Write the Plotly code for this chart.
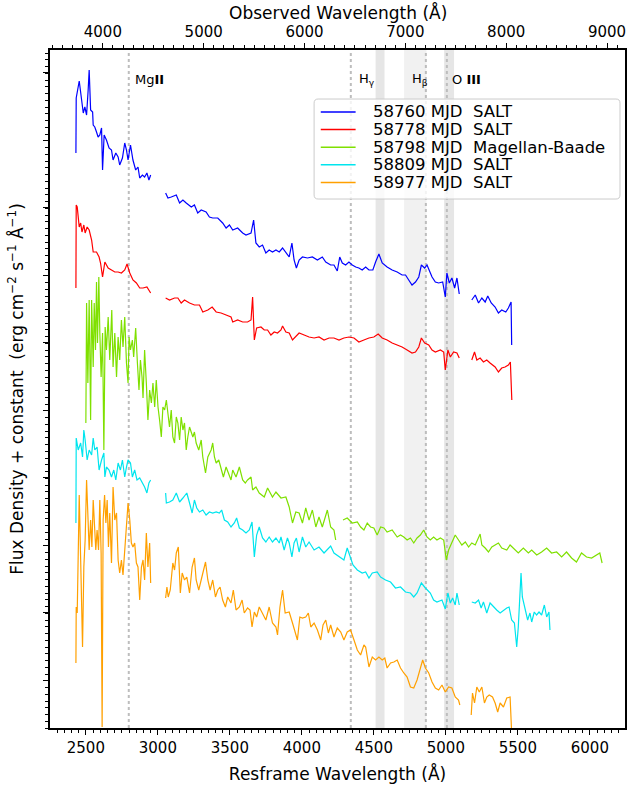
import plotly.graph_objects as go

# ---------------- data (rest-frame wavelength in Angstrom, flux + constant in arbitrary units) ----------------
blue_wl = [2431, 2433, 2454, 2470, 2482, 2493, 2505, 2516, 2523, 2533, 2547, 2551, 2562, 2574, 2585, 2597, 2609, 2616,
           2627, 2643, 2661, 2678, 2689, 2708, 2724, 2735, 2754, 2770, 2782, 2793, 2810, 2827, 2846, 2862, 2874, 2893,
           2908, 2924, 2938, 2950, None,
           3054, 3070, 3093, 3128, 3151, 3174, 3197, 3232, 3254, 3277, 3301, 3335, 3358, 3381, 3416, 3450, 3474, 3497,
           3520, 3554, 3589, 3612, 3647, 3665, 3681, 3704, 3727, 3750, 3773, 3796, 3820, 3843, 3866, 3889, 3912, 3931,
           3946, 3962, 3981, 4004, 4039, 4073, 4108, 4142, 4166, 4200, 4223, 4246, 4263, 4281, 4304, 4327, 4350, 4374,
           4396, 4419, 4443, 4466, 4493, 4512, 4535, 4558, 4592, 4627, 4662, 4696, 4720, 4742, 4765, 4789, 4812, 4830,
           4853, 4869, 4885, 4904, 4927, 4950, 4978, 4996, 5007, 5024, 5042, 5061, 5077, 5093, None,
           5180, 5204, 5227, 5250, 5273, 5291, 5315, 5342, 5365, 5388, 5416, 5434, 5453, 5457]
blue_flux = [575, 630, 647, 631, 615, 621, 613, 638, 658, 618, 616, 603, 601, 596, 591, 593, 600, 558,
             593, 588, 580, 578, 568, 575, 571, 563, 570, 585, 578, 568, 583, 568, 558, 561, 550, 553,
             551, 555, 548, 553, None,
             535, 530, 531, 533, 525, 528, 525, 521, 523, 515, 518, 516, 511, 510, 510, 505, 500, 503,
             498, 500, 495, 493, 495, 508, 485, 481, 483, 475, 478, 476, 478, 476, 480, 475, 471, 485,
             468, 460, 468, 471, 470, 471, 468, 471, 466, 463, 463, 457, 471, 465, 463, 466, 463, 461,
             460, 458, 461, 458, 458, 466, 474, 465, 461, 458, 456, 453, 453, 448, 443, 446, 451, 463,
             460, 463, 458, 451, 446, 445, 446, 431, 455, 445, 450, 440, 450, 434, None,
             428, 433, 425, 430, 426, 432, 425, 421, 415, 418, 416, 420, 426, 383]

red_wl = [2431, 2433, 2440, 2454, 2464, 2473, 2486, 2495, 2509, 2523, 2540, 2551, 2574, 2592, 2602, 2616, 2632, 2655,
          2678, 2701, 2724, 2747, 2770, 2786, 2805, 2827, 2851, 2874, 2897, 2924, 2950, None,
          3054, 3081, 3116, 3139, 3162, 3185, 3220, 3254, 3289, 3312, 3347, 3377, 3405, 3439, 3474, 3508, 3520, 3554,
          3589, 3623, 3647, 3658, 3670, 3686, 3716, 3739, 3762, 3785, 3808, 3831, 3855, 3866, 3889, 3912, 3935, 3958,
          3981, 4016, 4050, 4085, 4119, 4154, 4189, 4223, 4258, 4292, 4327, 4362, 4396, 4431, 4466, 4500, 4530, 4558,
          4592, 4627, 4662, 4696, 4731, 4765, 4789, 4812, 4830, 4853, 4881, 4904, 4927, 4962, 4985, 4996, 5014, 5031,
          5054, 5077, 5093, None,
          5180, 5199, 5215, 5238, 5261, 5284, 5307, 5342, 5365, 5388, 5411, 5434, 5448, 5457, 5458]
red_flux = [440, 523, 521, 501, 505, 496, 503, 495, 501, 498, 488, 476, 476, 471, 465, 451, 466, 460,
            458, 456, 456, 455, 458, 464, 455, 448, 445, 440, 440, 441, 435, None,
            430, 428, 430, 430, 425, 428, 425, 423, 423, 416, 418, 421, 416, 415, 413, 411, 406, 408,
            406, 406, 408, 431, 388, 400, 401, 398, 398, 393, 396, 395, 398, 402, 396, 395, 388, 391,
            395, 393, 391, 390, 391, 388, 390, 390, 388, 390, 391, 390, 386, 388, 390, 391, 394, 390,
            388, 385, 383, 381, 378, 375, 376, 381, 390, 385, 383, 378, 376, 378, 376, 358, 378, 371,
            376, 375, 370, None,
            368, 376, 368, 370, 366, 368, 365, 361, 356, 360, 361, 363, 366, 338, 328]

green_wl = [2500, 2505, 2514, 2523, 2533, 2540, 2551, 2558, 2567, 2574, 2581, 2590, 2597, 2606, 2616, 2625, 2634, 2643,
            2655, 2666, 2680, 2689, 2701, 2713, 2724, 2735, 2747, 2758, 2770, 2782, 2793, 2800, 2810, 2823, 2832, 2846,
            2858, 2869, 2879, 2890, 2897, 2908, 2920, 2931, 2943, 2955, 2966, 2978, 2989, 3001, 3012, 3024, 3035, 3047,
            3059, 3070, 3081, 3093, 3104, 3116, 3128, 3139, 3151, 3162, 3174, 3185, 3197, 3208, 3220, 3243, 3254, 3266,
            3284, 3301, 3312, 3331, 3347, 3370, 3381, 3393, 3405, 3423, 3439, 3455, 3474, 3492, 3508, 3520, 3543, 3566,
            3589, 3607, 3623, 3647, 3658, 3681, 3704, 3739, 3762, 3796, 3820, 3855, 3889, 3912, 3935, 3958, 3981, 4004,
            4027, 4050, 4073, 4097, 4119, 4142, 4177, 4200, 4223, 4235, None,
            4286, 4315, 4350, 4385, 4408, 4431, 4454, 4477, 4500, 4523, 4547, 4570, 4592, 4627, 4662, 4685, 4708, 4731,
            4754, 4777, 4800, 4823, 4846, 4869, 4892, 4915, 4938, 4962, 4985, 5003, 5019, 5042, 5065, 5088, 5111, 5135,
            5158, 5180, 5204, 5238, 5250, 5273, 5296, 5319, 5365, 5388, 5423, 5446, 5481, 5503, 5538, 5573, 5596, 5631,
            5665, 5700, 5734, 5769, 5804, 5838, 5873, 5907, 5942, 5977, 6012, 6046, 6069, 6085]
green_flux = [305, 425, 345, 428, 308, 428, 361, 425, 378, 446, 385, 451, 395, 351, 395, 278, 401, 378,
              411, 368, 418, 361, 395, 351, 391, 368, 408, 381, 411, 365, 345, 391, 378, 388, 371, 400,
              365, 338, 368, 351, 330, 378, 345, 308, 338, 325, 345, 321, 348, 321, 308, 291, 321, 318,
              328, 311, 301, 318, 291, 285, 311, 305, 288, 311, 298, 305, 278, 291, 301, 291, 296, 285,
              278, 288, 271, 255, 271, 278, 285, 271, 265, 268, 258, 251, 261, 255, 248, 258, 251, 261,
              248, 245, 248, 251, 238, 241, 235, 231, 240, 231, 236, 230, 231, 221, 205, 216, 215, 205,
              220, 208, 218, 201, 211, 201, 218, 201, 198, 188, None,
              208, 210, 205, 206, 201, 198, 205, 201, 200, 193, 201, 200, 196, 198, 191, 193, 191, 188,
              190, 185, 190, 193, 198, 191, 188, 191, 188, 190, 188, 168, 178, 185, 193, 188, 183, 186,
              181, 185, 183, 194, 183, 180, 176, 181, 185, 180, 178, 183, 178, 175, 180, 175, 178, 173,
              176, 180, 175, 176, 171, 176, 170, 166, 175, 171, 170, 173, 175, 165]

cyan_wl = [2431, 2433, 2447, 2464, 2477, 2486, 2495, 2509, 2523, 2540, 2551, 2562, 2578, 2592, 2609, 2625, 2632, 2643,
           2661, 2678, 2694, 2708, 2724, 2740, 2754, 2770, 2782, 2793, 2810, 2823, 2839, 2855, 2874, 2893, 2908, 2924,
           2938, 2950, None,
           3054, 3059, 3081, 3104, 3128, 3151, 3174, 3201, 3220, 3238, 3254, 3270, 3289, 3312, 3335, 3358, 3381, 3405,
           3427, 3443, 3462, 3485, 3508, 3531, 3547, 3566, 3589, 3612, 3635, 3654, 3670, 3686, 3704, 3727, 3750, 3773,
           3796, 3820, 3843, 3855, 3877, 3900, 3912, 3931, 3946, 3962, 3981, 4004, 4027, 4050, 4085, 4119, 4154, 4200,
           4223, 4258, 4292, 4315, 4338, 4355, 4385, 4419, 4443, 4466, 4489, 4523, 4547, 4581, 4616, 4650, 4685, 4720,
           4754, 4777, 4800, 4830, 4858, 4892, 4915, 4938, 4973, 4996, 5014, 5031, 5047, 5065, 5077, 5093, None,
           5180, 5204, 5227, 5245, 5261, 5284, 5307, 5330, 5353, 5377, 5400, 5423, 5439, 5457, 5476, 5492, 5503, 5512,
           5522, 5531, 5550, 5568, 5584, 5596, 5614, 5630, 5647, 5665, 5684, 5700, 5716, 5723]
cyan_flux = [205, 290, 278, 285, 271, 298, 288, 268, 278, 273, 290, 278, 281, 258, 268, 275, 251, 261,
             258, 251, 258, 248, 265, 258, 268, 251, 261, 268, 265, 251, 258, 248, 250, 245, 241, 235,
             245, 248, None,
             235, 225, 226, 228, 235, 226, 230, 235, 225, 215, 228, 220, 216, 218, 213, 216, 215, 216,
             215, 218, 208, 206, 201, 205, 210, 200, 198, 195, 198, 206, 171, 193, 201, 190, 186, 191,
             186, 190, 185, 191, 178, 190, 185, 171, 185, 190, 176, 191, 181, 186, 178, 181, 175, 182,
             175, 171, 168, 180, 171, 163, 158, 155, 156, 150, 155, 156, 151, 148, 146, 140, 141, 136,
             135, 131, 135, 145, 140, 135, 128, 126, 128, 119, 135, 125, 130, 123, 135, 123, None,
             126, 125, 128, 120, 126, 115, 125, 121, 118, 115, 118, 120, 121, 108, 105, 81, 101, 135,
             155, 131, 118, 108, 115, 106, 116, 113, 116, 113, 123, 111, 116, 98]

orange_wl = [2431, 2433, 2440, 2447, 2454, 2464, 2470, 2477, 2486, 2495, 2505, 2514, 2523, 2533, 2542, 2551, 2560, 2569,
             2578, 2588, 2597, 2606, 2613, 2620, 2630, 2639, 2648, 2657, 2666, 2678, 2689, 2701, 2713, 2724, 2735, 2747,
             2758, 2770, 2782, 2793, 2805, 2816, 2827, 2839, 2851, 2862, 2874, 2886, 2897, 2908, 2920, 2931, 2943, 2950,
             None,
             3054, 3063, 3072, 3086, 3104, 3116, 3128, 3142, 3156, 3169, 3185, 3201, 3220, 3238, 3254, 3266, 3284, 3301,
             3317, 3331, 3347, 3363, 3381, 3400, 3416, 3432, 3450, 3469, 3485, 3508, 3524, 3543, 3566, 3585, 3600, 3623,
             3640, 3654, 3670, 3686, 3704, 3727, 3750, 3773, 3796, 3820, 3831, 3848, 3866, 3884, 3912, 3935, 3953, 3969,
             3986, 4004, 4027, 4045, 4062, 4085, 4108, 4131, 4147, 4166, 4184, 4200, 4223, 4246, 4270, 4292, 4315, 4338,
             4362, 4385, 4408, 4431, 4443, 4466, 4489, 4512, 4535, 4558, 4576, 4592, 4616, 4639, 4662, 4685, 4708, 4731,
             4754, 4777, 4800, 4823, 4839, 4858, 4881, 4904, 4927, 4950, 4973, 4996, 5019, 5042, 5065, 5088, 5097, None,
             5176, 5185, 5199, 5215, 5232, 5250, 5268, 5284, 5301, 5324, 5342, 5360, 5377, 5400, 5423, 5446, 5457]
orange_flux = [65, 121, 115, 171, 233, 168, 121, 81, 161, 188, 248, 208, 178, 208, 181, 228, 205, 178,
               198, 178, 228, 175, 1, 208, 233, 205, 228, 181, 215, 165, 241, 208, 215, 168, 155, 168,
               153, 181, 205, 225, 208, 185, 181, 185, 165, 161, 128, 161, 168, 148, 195, 161, 185, 145,
               None,
               130, 141, 131, 138, 165, 158, 175, 181, 135, 155, 148, 151, 135, 161, 170, 148, 138, 148,
               155, 166, 148, 138, 148, 131, 138, 141, 128, 121, 131, 125, 138, 118, 121, 128, 115, 120,
               118, 101, 116, 111, 121, 115, 108, 121, 105, 101, 93, 121, 138, 115, 116, 105, 95, 88,
               111, 110, 111, 115, 101, 105, 98, 88, 103, 108, 95, 103, 91, 100, 96, 88, 96, 98,
               88, 78, 73, 83, 81, 61, 71, 68, 71, 68, 70, 60, 65, 66, 68, 60, 55, 51,
               41, 40, 48, 61, 68, 60, 55, 46, 40, 38, 43, 36, 41, 40, 31, 28, 23, None,
               13, 35, 25, 41, 36, 41, 25, 31, 33, 31, 25, 16, 25, 21, 30, 31, -5]

spectra_names = ["58760 MJD\u00a0\u00a0SALT", "58778 MJD\u00a0\u00a0SALT", "58798 MJD\u00a0\u00a0Magellan-Baade",
                 "58809 MJD\u00a0\u00a0SALT", "58977 MJD\u00a0\u00a0SALT"]
spectra_colors = ["#0000ff", "#ff0000", "#7fe000", "#00e5ee", "#ffa000"]

line_names = ["Mg<b>II</b>", "H<sub>γ</sub>", "H<sub>β</sub>", "O <b>III</b>"]
line_wl = [2798, 4340, 4861, 5007]
label_wl = [2826, 4382, 4749, 5026]
bands = [(4512, 4574), (4710, 4865), (4988, 5057)]
band_colors = ["#e6e6e6", "#f1f1f1", "#e6e6e6"]

x_range = [2251, 6244]
x_obs_range = [3476, 9178]
y_range = [0, 678]

FONT = "DejaVu Sans"

fig = go.Figure()

series = [(blue_wl, blue_flux), (red_wl, red_flux), (green_wl, green_flux), (cyan_wl, cyan_flux),
          (orange_wl, orange_flux)]
for (wl, fl), name, col in zip(series, spectra_names, spectra_colors):
    fig.add_trace(go.Scatter(x=wl, y=fl, mode="lines", name=name, connectgaps=False, showlegend=False,
                             line=dict(color=col, width=1.2), hoverinfo="skip"))

# empty trace that registers the top (observed-frame) axis
fig.add_trace(go.Scatter(x=[None], y=[None], xaxis="x2", yaxis="y", mode="lines",
                         showlegend=False, hoverinfo="skip"))

shapes = []
for (a, b), c in zip(bands, band_colors):
    shapes.append(dict(type="rect", xref="x", yref="paper", x0=a, x1=b, y0=0, y1=1,
                       fillcolor=c, line=dict(width=0), layer="below"))
for w in line_wl:
    shapes.append(dict(type="line", xref="x", yref="paper", x0=w, x1=w, y0=0, y1=1,
                       line=dict(color="#bdbdbd", width=2, dash="dot"), layer="below"))

annotations = []
for t, w in zip(line_names, label_wl):
    annotations.append(dict(x=w, y=649, xref="x", yref="y", text=t, showarrow=False,
                            xanchor="left", yanchor="middle", font=dict(family=FONT, size=13, color="black")))

# top axis title (kept as an annotation so it sits where the reference has it)
annotations.append(dict(x=0.5, y=1.0546, xref="paper", yref="paper", text="Observed Wavelength (Å)",
                        showarrow=False, xanchor="center", yanchor="middle",
                        font=dict(family=FONT, size=17, color="black")))

# ---- legend box drawn by hand (matplotlib-style: tight rows, rounded frame) ----
lx0, lx1, ly0, ly1 = 0.4593, 0.9913, 0.7802, 0.9277
rx, ry = 0.007, 0.006
legend_path = (f"M {lx0+rx},{ly0} L {lx1-rx},{ly0} Q {lx1},{ly0} {lx1},{ly0+ry} "
               f"L {lx1},{ly1-ry} Q {lx1},{ly1} {lx1-rx},{ly1} L {lx0+rx},{ly1} Q {lx0},{ly1} {lx0},{ly1-ry} "
               f"L {lx0},{ly0+ry} Q {lx0},{ly0} {lx0+rx},{ly0} Z")
shapes.append(dict(type="path", xref="paper", yref="paper", path=legend_path,
                   fillcolor="rgba(255,255,255,0.8)", line=dict(color="#cccccc", width=1), layer="above"))
row_top, row_step = 0.9086, 0.0260
for i, (name, col) in enumerate(zip(spectra_names, spectra_colors)):
    yy = row_top - i * row_step
    shapes.append(dict(type="line", xref="paper", yref="paper", x0=0.4709, x1=0.5315, y0=yy, y1=yy,
                       line=dict(color=col, width=1.5), layer="above"))
    annotations.append(dict(x=0.5575, y=yy, xref="paper", yref="paper", text=name, showarrow=False,
                            xanchor="left", yanchor="middle", font=dict(family=FONT, size=16.5, color="black")))

axis_common = dict(showline=True, linecolor="black", linewidth=1.5, ticks="outside", tickcolor="black",
                   tickwidth=1.3, ticklen=5, showgrid=False, zeroline=False)

fig.update_layout(
    width=629, height=788,
    margin=dict(l=50, r=2, t=50, b=60),
    paper_bgcolor="white", plot_bgcolor="white",
    font=dict(family=FONT, size=15, color="black"),
    shapes=shapes, annotations=annotations,
    showlegend=False,
    xaxis=dict(range=x_range, dtick=500, tick0=0, mirror=False,
               title=dict(text="Resframe Wavelength (Å)", font=dict(size=17), standoff=12),
               tickfont=dict(size=15),
               minor=dict(dtick=50, ticks="outside", ticklen=3, tickcolor="black", tickwidth=1),
               **axis_common),
    xaxis2=dict(range=x_obs_range, overlaying="x", side="top", anchor="y", dtick=1000, tick0=0,
                tickfont=dict(size=15),
                minor=dict(dtick=100, ticks="outside", ticklen=3, tickcolor="black", tickwidth=1),
                **axis_common),
    yaxis=dict(range=y_range, showticklabels=False, mirror=True, tick0=47.8, dtick=67.5,
               title=dict(text="Flux Density + constant  (erg cm<sup>−2</sup> s<sup>−1</sup> Å<sup>−1</sup>)",
                          font=dict(size=17), standoff=15),
               minor=dict(dtick=6.75, ticks="outside", ticklen=3, tickcolor="black", tickwidth=1),
               **axis_common),
)

fig.write_html("out.html")
